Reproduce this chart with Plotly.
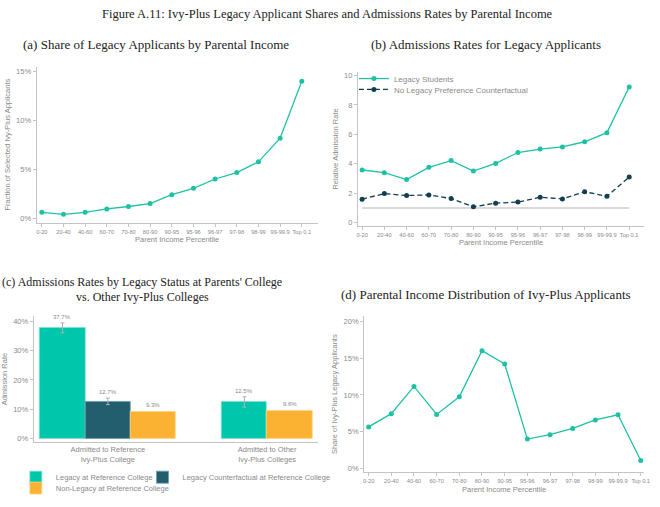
import plotly.graph_objects as go

# ---------------- data ----------------
income_bins = ["0-20", "20-40", "40-60", "60-70", "70-80", "80-90", "90-95",
               "95-96", "96-97", "97-98", "98-99", "99-99.9", "Top 0.1"]

# (a) share of legacy applicants (%)
legacy_share = [0.65, 0.45, 0.65, 1.0, 1.25, 1.55, 2.45, 3.1, 4.05, 4.7, 5.8, 8.2, 14.0]

# (b) relative admission rates
legacy_rel = [3.58, 3.4, 2.93, 3.76, 4.22, 3.51, 4.03, 4.77, 5.0, 5.15, 5.5, 6.12, 9.22]
counterfactual_rel = [1.6, 1.98, 1.85, 1.89, 1.64, 1.08, 1.33, 1.4, 1.73, 1.62, 2.1, 1.8, 3.1]
baseline_rel = 1.0

# (c) admissions rates by legacy status (%)
groups = ["Admitted to Reference<br>Ivy-Plus College",
          "Admitted to Other<br>Ivy-Plus Colleges"]
legacy_ref = [37.7, 12.5]
legacy_ref_err = [1.7, 1.75]
legacy_cf = [12.7]          # only for the first group
legacy_cf_err = [1.1]
nonlegacy_ref = [9.3, 9.6]

# (d) parental income distribution of legacy applicants (%)
income_dist = [5.65, 7.45, 11.15, 7.35, 9.75, 16.0, 14.2, 4.0, 4.6, 5.45, 6.6, 7.3, 1.1]

# ---------------- style ----------------
TEAL_LINE = "#1EC1A5"
TEAL_BAR = "#00C6AB"
DARK_LINE = "#123F50"
DARK_BAR = "#225E6E"
ORANGE = "#FBB233"
GRAY_TXT = "#8a8a8a"
AXIS_COL = "#c4c4c4"
SANS = "Liberation Sans, Arial, sans-serif"
SERIF = "Liberation Serif, Times New Roman, serif"

W, H = 660, 507

def px_x(a, b):
    return [a / W, b / W]

def px_y(top, bottom):
    return [1 - bottom / H, 1 - top / H]

fig = go.Figure()

# (a)
fig.add_trace(go.Scatter(
    x=income_bins, y=legacy_share, mode="lines+markers",
    line=dict(color=TEAL_LINE, width=1.3), marker=dict(color=TEAL_LINE, size=5),
    xaxis="x", yaxis="y", showlegend=False))

# (b)
fig.add_trace(go.Scatter(
    x=income_bins, y=[baseline_rel] * len(income_bins), mode="lines",
    line=dict(color="#b5b5b5", width=1.2), xaxis="x2", yaxis="y2",
    showlegend=False, hoverinfo="skip"))
fig.add_trace(go.Scatter(
    x=income_bins, y=legacy_rel, mode="lines+markers", name="Legacy Students",
    line=dict(color=TEAL_LINE, width=1.3), marker=dict(color=TEAL_LINE, size=5),
    xaxis="x2", yaxis="y2", legend="legend"))
fig.add_trace(go.Scatter(
    x=income_bins, y=counterfactual_rel, mode="lines+markers",
    name="No Legacy Preference Counterfactual",
    line=dict(color=DARK_LINE, width=1.3, dash="5px,3px"),
    marker=dict(color=DARK_LINE, size=5),
    xaxis="x2", yaxis="y2", legend="legend2"))

# (c) grouped bars with a missing middle bar in the second group
bw = 0.285
group_pos = list(range(len(groups)))
x_legacy = [group_pos[0] - bw, group_pos[1] - bw / 2]
x_cf = [group_pos[0]]
x_non = [group_pos[0] + bw, group_pos[1] + bw / 2]
err_style = dict(type="data", color="#b0b0b0", thickness=1, width=2)

fig.add_trace(go.Bar(
    x=x_legacy, y=legacy_ref, width=bw, name="Legacy at Reference College",
    marker=dict(color=TEAL_BAR, line=dict(color="#7fe0cf", width=0.8)),
    error_y=dict(array=legacy_ref_err, **err_style),
    xaxis="x3", yaxis="y3", legend="legend3"))
fig.add_trace(go.Bar(
    x=x_cf, y=legacy_cf, width=bw, name="Legacy Counterfactual at Reference College",
    marker=dict(color=DARK_BAR, line=dict(color="#6f9aa6", width=0.8)),
    error_y=dict(array=legacy_cf_err, **err_style),
    xaxis="x3", yaxis="y3", legend="legend5"))
fig.add_trace(go.Bar(
    x=x_non, y=nonlegacy_ref, width=bw, name="Non-Legacy at Reference College",
    marker=dict(color=ORANGE, line=dict(color="#fdd58a", width=0.8)),
    xaxis="x3", yaxis="y3", legend="legend4"))

# (d)
fig.add_trace(go.Scatter(
    x=income_bins, y=income_dist, mode="lines+markers",
    line=dict(color=TEAL_LINE, width=1.3), marker=dict(color=TEAL_LINE, size=5),
    xaxis="x4", yaxis="y4", showlegend=False))

# bar value labels
annotations = []
def bar_label(x, v, e):
    annotations.append(dict(x=x, y=v + e, xref="x3", yref="y3", text=f"{v:.1f}%",
                            showarrow=False, yanchor="bottom", yshift=1,
                            font=dict(family=SANS, size=6, color=GRAY_TXT)))
for x, v, e in zip(x_legacy, legacy_ref, legacy_ref_err):
    bar_label(x, v, e)
for x, v, e in zip(x_cf, legacy_cf, legacy_cf_err):
    bar_label(x, v, e)
for x, v in zip(x_non, nonlegacy_ref):
    bar_label(x, v, 0)

# titles
def serif_text(x, y, text, size=13, anchor="center"):
    annotations.append(dict(x=x / W, y=1 - y / H, xref="paper", yref="paper",
                            text=text, showarrow=False, xanchor=anchor, yanchor="middle",
                            font=dict(family=SERIF, size=size, color="#222222")))

serif_text(330, 13, "Figure A.11: Ivy-Plus Legacy Applicant Shares and Admissions Rates by Parental Income", size=12.5)
serif_text(157, 44, "(a) Share of Legacy Applicants by Parental Income")
serif_text(490, 44, "(b) Admissions Rates for Legacy Applicants")
serif_text(143, 283, "(c) Admissions Rates by Legacy Status at Parents' College", size=12)
serif_text(143, 298, "vs. Other Ivy-Plus Colleges", size=12)
serif_text(490, 295, "(d) Parental Income Distribution of Ivy-Plus Applicants")

tick_font_x = dict(family=SANS, size=5.7, color=GRAY_TXT)
tick_font_y = dict(family=SANS, size=7.5, color=GRAY_TXT)
title_font = dict(family=SANS, size=7.5, color=GRAY_TXT)

def xcat(domain, rng, anchor):
    return dict(domain=domain, range=rng, anchor=anchor, type="category",
                showline=True, linecolor=AXIS_COL, linewidth=1, ticks="outside",
                ticklen=3, tickcolor=AXIS_COL, tickfont=tick_font_x,
                showgrid=False, zeroline=False,
                title=dict(text="Parent Income Percentile", font=title_font, standoff=3))

def yax(domain, rng, anchor, title, dtick, suffix):
    return dict(domain=domain, range=rng, anchor=anchor, showline=True,
                linecolor=AXIS_COL, linewidth=1, ticks="outside", ticklen=3,
                tickcolor=AXIS_COL, tickfont=tick_font_y, dtick=dtick, tick0=0,
                ticksuffix=suffix, showgrid=False, zeroline=False,
                title=dict(text=title, font=title_font, standoff=4))

legend_font = dict(family=SANS, size=7.5, color=GRAY_TXT)
def single_legend(xpx, ypx, font):
    return dict(x=xpx / W, y=1 - ypx / H, xanchor="left", yanchor="middle",
                font=font, bgcolor="rgba(0,0,0,0)")

fig.update_layout(
    width=W, height=H, margin=dict(l=0, r=0, t=0, b=0),
    paper_bgcolor="white", plot_bgcolor="white",
    barmode="overlay", bargap=0,
    xaxis=xcat(px_x(36, 320), [-0.24, 12.73], "y"),
    yaxis=yax(px_y(66, 223), [-0.4, 15.5], "x", "Fraction of Selected Ivy-Plus Applicants", 5, "%"),
    xaxis2=xcat(px_x(360.7, 650), [-0.19, 12.67], "y2"),
    yaxis2=yax(px_y(71.7, 226), [-0.2, 10.22], "x2", "Relative Admission Rate", 2, ""),
    xaxis3=dict(domain=px_x(33, 320), range=[-0.466, 1.317], anchor="y3",
                tickmode="array", tickvals=group_pos, ticktext=groups,
                showline=True, linecolor=AXIS_COL, linewidth=1, ticks="",
                tickfont=dict(family=SANS, size=7.5, color=GRAY_TXT),
                showgrid=False, zeroline=False),
    yaxis3=yax(px_y(316.7, 444), [-1.25, 41.8], "x3", "Admission Rate", 10, "%"),
    xaxis4=xcat(px_x(367, 650), [-0.2, 12.15], "y4"),
    yaxis4=yax(px_y(317, 474), [-0.5, 20.7], "x4", "Share of Ivy-Plus Legacy Applicants", 5, "%"),
    legend=single_legend(356.7, 78, dict(family=SANS, size=8, color=GRAY_TXT)),
    legend2=single_legend(356.7, 89, dict(family=SANS, size=8, color=GRAY_TXT)),
    legend3=single_legend(15, 479, legend_font),
    legend5=single_legend(143, 479, legend_font),
    legend4=single_legend(15, 490, legend_font),
    annotations=annotations,
)

fig.write_html("out.html", config={"displayModeBar": False},
               post_script="document.body.style.margin='0';")
